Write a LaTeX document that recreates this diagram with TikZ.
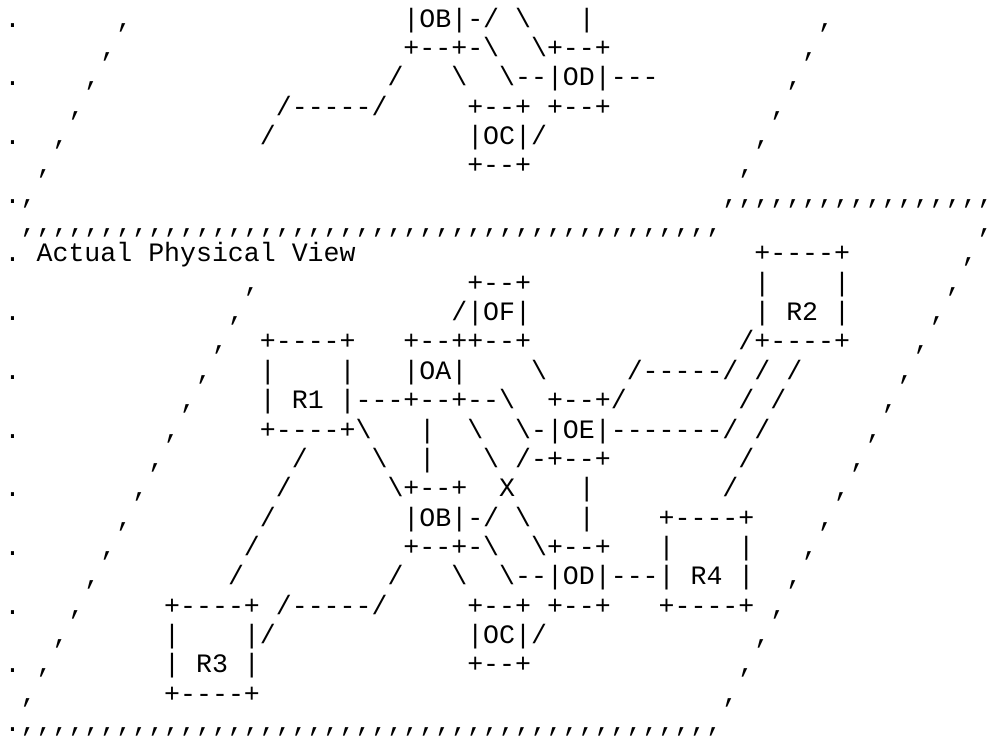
\documentclass[tikz,border=0pt]{standalone}
\usepackage{fontspec}
\setmonofont{Liberation Mono}
\newcommand{\bsl}{\textbackslash}
\newcommand{\ctn}{,,,,,,,,,,}
\tikzset{asc/.style={anchor=base west, inner sep=0pt, outer sep=0pt,
  font=\ttfamily\frenchspacing\fontsize{26.58pt}{29.36pt}\selectfont, text=black}}
\newcommand{\asc}[3]{\node[asc] (R#1C#2) at ({4.72pt+#2*15.95pt},{-27pt-(#1-1)*29.36pt}) {#3};}
\begin{document}
\begin{tikzpicture}
\path[fill=white] (0,0) rectangle (998pt,-739pt);
\useasboundingbox (0,0) rectangle (998pt,-739pt);
% row 1
\asc{1}{0}{.}\asc{1}{7}{,}\asc{1}{25}{|OB|-/}\asc{1}{32}{\bsl}\asc{1}{36}{|}\asc{1}{51}{,}
% row 2
\asc{2}{6}{,}\asc{2}{25}{+--+-\bsl}\asc{2}{33}{\bsl+--+}\asc{2}{50}{,}
% row 3
\asc{3}{0}{.}\asc{3}{5}{,}\asc{3}{24}{/}\asc{3}{28}{\bsl}\asc{3}{31}{\bsl--|OD|---}\asc{3}{49}{,}
% row 4
\asc{4}{4}{,}\asc{4}{17}{/-----/}\asc{4}{29}{+--+}\asc{4}{34}{+--+}\asc{4}{48}{,}
% row 5
\asc{5}{0}{.}\asc{5}{3}{,}\asc{5}{16}{/}\asc{5}{29}{|OC|/}\asc{5}{47}{,}
% row 6
\asc{6}{2}{,}\asc{6}{29}{+--+}\asc{6}{46}{,}
% row 7
\asc{7}{0}{.,}\asc{7}{45}{\ctn,,,,,,,}
% row 8
\asc{8}{1}{\ctn\ctn\ctn\ctn,,,,}\asc{8}{61}{,}
% row 9
\asc{9}{0}{. Actual Physical View}\asc{9}{47}{+----+}\asc{9}{60}{,}
% row 10
\asc{10}{15}{,}\asc{10}{29}{+--+}\asc{10}{47}{|}\asc{10}{52}{|}\asc{10}{59}{,}
% row 11
\asc{11}{0}{.}\asc{11}{14}{,}\asc{11}{28}{/|OF|}\asc{11}{47}{| R2 |}\asc{11}{58}{,}
% row 12
\asc{12}{13}{,}\asc{12}{16}{+----+}\asc{12}{25}{+--++--+}\asc{12}{46}{/+----+}\asc{12}{57}{,}
% row 13
\asc{13}{0}{.}\asc{13}{12}{,}\asc{13}{16}{|}\asc{13}{21}{|}\asc{13}{25}{|OA|}\asc{13}{33}{\bsl}\asc{13}{39}{/-----/}\asc{13}{47}{/}\asc{13}{49}{/}\asc{13}{56}{,}
% row 14
\asc{14}{11}{,}\asc{14}{16}{| R1 |---+--+--\bsl}\asc{14}{34}{+--+/}\asc{14}{46}{/}\asc{14}{48}{/}\asc{14}{55}{,}
% row 15
\asc{15}{0}{.}\asc{15}{10}{,}\asc{15}{16}{+----+\bsl}\asc{15}{26}{|}\asc{15}{29}{\bsl}\asc{15}{32}{\bsl-|OE|-------/}\asc{15}{47}{/}\asc{15}{54}{,}
% row 16
\asc{16}{9}{,}\asc{16}{18}{/}\asc{16}{23}{\bsl}\asc{16}{26}{|}\asc{16}{30}{\bsl}\asc{16}{32}{/-+--+}\asc{16}{46}{/}\asc{16}{53}{,}
% row 17
\asc{17}{0}{.}\asc{17}{8}{,}\asc{17}{17}{/}\asc{17}{24}{\bsl+--+}\asc{17}{31}{X}\asc{17}{36}{|}\asc{17}{45}{/}\asc{17}{52}{,}
% row 18
\asc{18}{7}{,}\asc{18}{16}{/}\asc{18}{25}{|OB|-/}\asc{18}{32}{\bsl}\asc{18}{36}{|}\asc{18}{41}{+----+}\asc{18}{51}{,}
% row 19
\asc{19}{0}{.}\asc{19}{6}{,}\asc{19}{15}{/}\asc{19}{25}{+--+-\bsl}\asc{19}{33}{\bsl+--+}\asc{19}{41}{|}\asc{19}{46}{|}\asc{19}{50}{,}
% row 20
\asc{20}{5}{,}\asc{20}{14}{/}\asc{20}{24}{/}\asc{20}{28}{\bsl}\asc{20}{31}{\bsl--|OD|---| R4 |}\asc{20}{49}{,}
% row 21
\asc{21}{0}{.}\asc{21}{4}{,}\asc{21}{10}{+----+}\asc{21}{17}{/-----/}\asc{21}{29}{+--+}\asc{21}{34}{+--+}\asc{21}{41}{+----+}\asc{21}{48}{,}
% row 22
\asc{22}{3}{,}\asc{22}{10}{|}\asc{22}{15}{|/}\asc{22}{29}{|OC|/}\asc{22}{47}{,}
% row 23
\asc{23}{0}{.}\asc{23}{2}{,}\asc{23}{10}{| R3 |}\asc{23}{29}{+--+}\asc{23}{46}{,}
% row 24
\asc{24}{1}{,}\asc{24}{10}{+----+}\asc{24}{45}{,}
% row 25
\asc{25}{0}{.\ctn\ctn\ctn\ctn,,,,}
\end{tikzpicture}
\end{document}
